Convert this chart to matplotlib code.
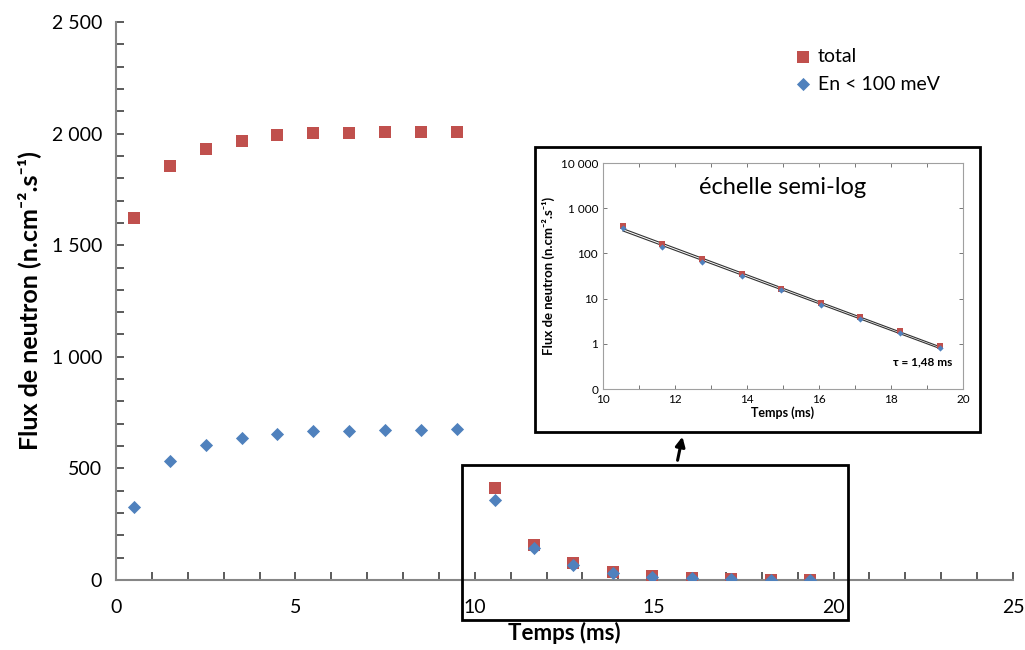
import numpy as np
import matplotlib.pyplot as plt
from matplotlib.ticker import MultipleLocator, FixedLocator
from matplotlib.patches import Rectangle, FancyArrowPatch

# ---- data ----
t_rise = [0.5, 1.5, 2.5, 3.5, 4.5, 5.5, 6.5, 7.5, 8.5, 9.5]
total_rise = [1622, 1855, 1931, 1967, 1994, 2003, 2003, 2007, 2007, 2007]
low_rise = [327, 533, 605, 636, 654, 668, 668, 672, 672, 677]

t_decay = [10.55, 11.65, 12.75, 13.85, 14.95, 16.05, 17.15, 18.25, 19.35]
total_decay = [412, 158, 74, 35.5, 16.5, 8.0, 4.0, 1.9, 0.9]
low_decay = [360, 142, 66, 32, 15.2, 7.3, 3.6, 1.7, 0.82]

y_ticks = [0, 500, 1000, 1500, 2000, 2500]
y_ticklabels = ["0", "500", "1 000", "1 500", "2 000", "2 500"]
x_ticks = [0, 5, 10, 15, 20, 25]

inset_yticks = [0.1, 1, 10, 100, 1000, 10000]
inset_yticklabels = ["0", "1", "10", "100", "1 000", "10 000"]
inset_xticks = [10, 12, 14, 16, 18, 20]

RED = "#C0504D"
BLUE = "#4F81BD"
GREY = "#868686"
FONT = ["Lato", "DejaVu Sans"]

plt.rcParams['font.family'] = FONT

W, H = 1025, 650
fig = plt.figure(figsize=(W / 100, H / 100), dpi=100)

def fx(px):
    return px / W

def fy(py):
    return 1 - py / H

YLABEL = "Flux de neutron (n.cm⁻².s⁻¹)"

# ---- main axes ----
ax = fig.add_axes([fx(116), fy(580), fx(1013) - fx(116), fy(22) - fy(580)])
t_all = t_rise + t_decay
ax.scatter(t_all, total_rise + total_decay, marker="s", s=75, color=RED,
           label="total", zorder=3, linewidths=0)
ax.scatter(t_all, low_rise + low_decay, marker="D", s=45, color=BLUE,
           label="En < 100 meV", zorder=4, linewidths=0)
ax.set_xlim(0, 25)
ax.set_ylim(0, 2500)
ax.set_yticks(y_ticks)
ax.set_yticklabels(y_ticklabels)
ax.set_xticks(x_ticks)
ax.xaxis.set_minor_locator(MultipleLocator(1))
ax.yaxis.set_minor_locator(MultipleLocator(100))
for s in ["top", "right"]:
    ax.spines[s].set_visible(False)
for s in ["left", "bottom"]:
    ax.spines[s].set_color(GREY)
    ax.spines[s].set_linewidth(1.5)
ax.tick_params(axis="both", which="both", direction="in", color="#404040",
               labelsize=14, width=1.2, length=6)
ax.tick_params(axis="x", pad=14)
ax.tick_params(axis="y", pad=10)
ax.set_xlabel("Temps (ms)", fontsize=16, fontweight="bold", labelpad=4)
ax.set_ylabel(YLABEL, fontsize=18, fontweight="bold", labelpad=8)

leg = ax.legend(loc="upper left", bbox_to_anchor=(0.735, 0.985), frameon=False,
                fontsize=14, handletextpad=0.3, labelspacing=0.55,
                handlelength=1.0, scatterpoints=1)

# ---- box around decay points ----
fig.add_artist(Rectangle((fx(462), fy(620)), fx(848) - fx(462), fy(465) - fy(620),
                         transform=fig.transFigure, fill=False, edgecolor="black",
                         linewidth=2, zorder=5))
# arrow
fig.add_artist(FancyArrowPatch(
    (fx(677), fy(463)), (fx(683), fy(434)), transform=fig.transFigure,
    arrowstyle="-|>", mutation_scale=14, color="black", linewidth=2.2))

# ---- inset frame ----
fig.add_artist(Rectangle((fx(535), fy(432)), fx(980) - fx(535), fy(147) - fy(432),
                         transform=fig.transFigure, facecolor="white",
                         edgecolor="black", linewidth=2, zorder=6))

ins = fig.add_axes([fx(603), fy(389), fx(963) - fx(603), fy(163) - fy(389)], zorder=7)
ins.set_yscale("log")
tt = np.array(t_decay)
for vals, col, mk, sz in [(total_decay, RED, "s", 16), (low_decay, BLUE, "D", 10)]:
    coef = np.polyfit(tt, np.log(vals), 1)
    xx = np.array([tt[0], tt[-1]])
    ins.plot(xx, np.exp(np.polyval(coef, xx)), color="#333333", lw=0.8, zorder=2)
    ins.scatter(tt, vals, marker=mk, s=sz, color=col, linewidths=0, zorder=3)
ins.set_xlim(10, 20)
ins.set_ylim(0.1, 10000)
ins.set_xticks(inset_xticks)
ins.xaxis.set_minor_locator(MultipleLocator(1))
ins.yaxis.set_major_locator(FixedLocator(inset_yticks))
ins.yaxis.set_minor_locator(FixedLocator([]))
ins.set_yticklabels(inset_yticklabels)
for s in ins.spines.values():
    s.set_color("#A0A0A0")
    s.set_linewidth(0.8)
ins.tick_params(axis="both", which="both", direction="in", labelsize=8.5,
                color="#606060", length=3, width=0.6)
ins.tick_params(axis="y", which="both", left=True, right=True)
ins.tick_params(axis="x", which="both", top=True, bottom=True)
ins.set_xlabel("Temps (ms)", fontsize=9, fontweight="bold", labelpad=1)
ins.set_ylabel(YLABEL, fontsize=9.5, fontweight="bold", labelpad=4)
ins.text(0.5, 0.89, "échelle semi-log", transform=ins.transAxes, ha="center",
         va="center", fontsize=17)
ins.text(0.97, 0.12, "τ = 1,48 ms", transform=ins.transAxes, ha="right",
         va="center", fontsize=8.5, fontweight="bold")

fig.savefig("out.png", dpi=100)
